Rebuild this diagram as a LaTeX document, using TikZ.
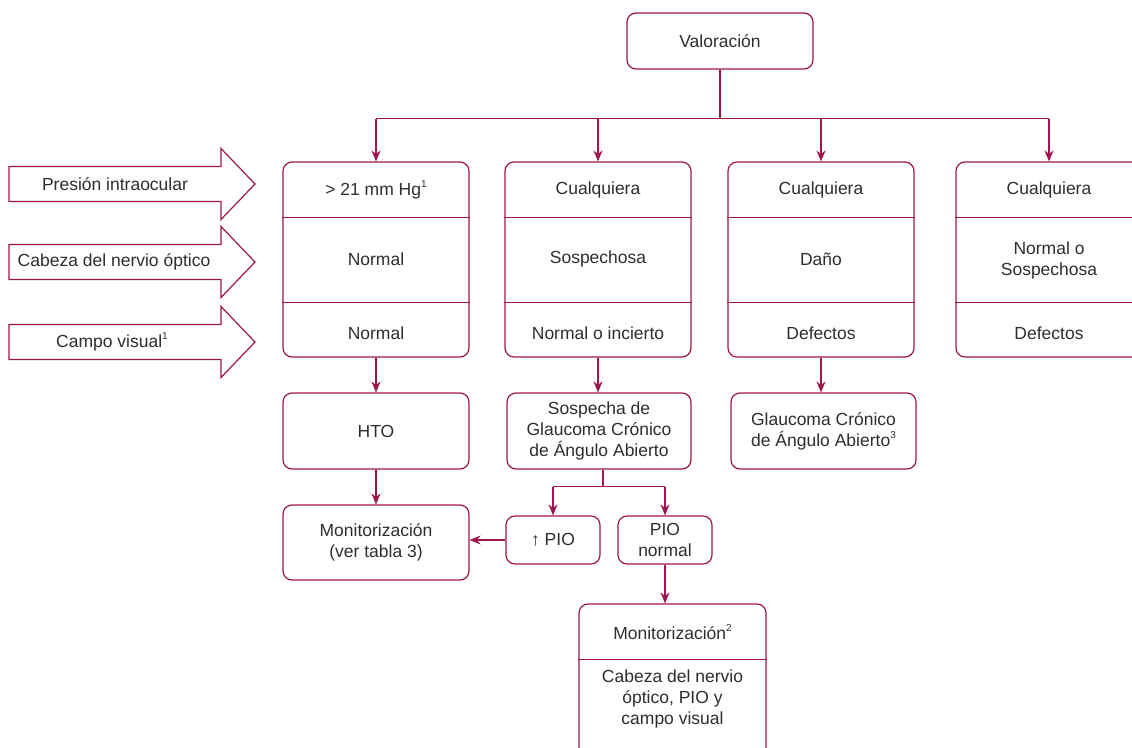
\documentclass[tikz,border=0pt]{standalone}
\usepackage{fontspec}
\setmainfont{Liberation Sans}
\usetikzlibrary{positioning, arrows.meta, calc}
\definecolor{wine}{RGB}{158, 22, 78}
\definecolor{txt}{RGB}{45, 45, 45}
\newcommand{\nota}[1]{\raisebox{0.45em}{\fontsize{10}{10}\selectfont #1}}

\begin{document}
\begin{tikzpicture}[x=1pt, y=-1pt, >={Stealth[length=11pt, width=9pt]},
    every node/.style={font=\fontsize{17.5}{21}\selectfont, text=txt, align=center},
    caja/.style={draw=wine, line width=1.2pt, rounded corners=9pt, inner sep=0pt},
    columna/.style={caja, minimum width=186pt, minimum height=195pt},
    linea/.style={draw=wine, line width=1.2pt},
    flecha/.style={linea, ->}]
    \useasboundingbox (0,0) rectangle (1132,747);

    % Flechas de la izquierda
    \foreach \y in {184, 262, 342}
        \draw[linea, line join=miter] (9,\y-17.5) -- (221,\y-17.5) -- (221,\y-35.5)
            -- (255,\y) -- (221,\y+35.5) -- (221,\y+17.5) -- (9,\y+17.5) -- cycle;
    \node (pio) at (115,184) {Presión intraocular};
    \node (cno) at (114,262) {Cabeza del nervio óptico};
    \node (cv) at (112,342) {Campo visual\nota{1}};

    % Caja superior
    \node[caja, minimum width=186pt, minimum height=56pt] (val) at (720,41) {Valoración};

    % Columnas
    \node[columna] (c1) at (376,259.5) {};
    \node[columna] (c2) at (598,259.5) {};
    \node[columna] (c3) at (821,259.5) {};
    \node[columna] (c4) at (1049,259.5) {};
    \draw[linea] (val.south) -- ++(0,49) coordinate (bus);
    \draw[linea] (bus -| c1.north) -- (bus -| c4.north);
    \foreach \c in {c1, c2, c3, c4} {
        \draw[linea] ($(\c.north west)+(0,56)$) -- ($(\c.north east)+(0,56)$);
        \draw[linea] ($(\c.north west)+(0,141)$) -- ($(\c.north east)+(0,141)$);
        \draw[flecha] (bus -| \c.north) -- (\c.north);
    }

    % Textos de las columnas
    \node (c1a) at (376,190) {> 21 mm Hg\nota{1}};
    \node (c1b) at (376,259) {Normal};
    \node (c1c) at (376,333) {Normal};
    \node (c2a) at (598,190) {Cualquiera};
    \node (c2b) at (598,259) {Sospechosa};
    \node (c2c) at (598,333) {Normal o incierto};
    \node (c3a) at (821,190) {Cualquiera};
    \node (c3b) at (821,259) {Daño};
    \node (c3c) at (821,333) {Defectos};
    \node (c4a) at (1049,190) {Cualquiera};
    \node (c4b) at (1049,260) {Normal o\\Sospechosa};
    \node (c4c) at (1049,333) {Defectos};

    % Segunda fila
    \node[caja, minimum width=186pt, minimum height=76pt] (hto) at (376,431) {HTO};
    \node[caja, minimum width=184pt, minimum height=76pt] (sosp) at (599,431)
        {Sospecha de\\Glaucoma Crónico\\de Ángulo Abierto};
    \node[caja, minimum width=185pt, minimum height=76pt] (gcaa) at (823.5,431)
        {Glaucoma Crónico\\de Ángulo Abierto\nota{3}};
    \draw[flecha] (c1.south) -- (c1.south |- hto.north);
    \draw[flecha] (c2.south) -- (c2.south |- sosp.north);
    \draw[flecha] (c3.south) -- (c3.south |- gcaa.north);

    % Seguimiento
    \node[caja, minimum width=186pt, minimum height=75pt] (mon) at (376,542.5)
        {Monitorización\\(ver tabla 3)};
    \node[caja, minimum width=94pt, minimum height=48pt] (pioa) at (553,540) {↑ PIO};
    \node[caja, minimum width=94pt, minimum height=48pt] (pion) at (665,540) {PIO\\normal};
    \draw[flecha] (hto.south) -- (mon.north);
    \draw[linea] ($(sosp.south)+(4,0)$) -- ++(0,17) coordinate (div);
    \draw[linea] (div -| pioa.north) -- (div -| pion.north);
    \draw[flecha] (div -| pioa.north) -- (pioa.north);
    \draw[flecha] (div -| pion.north) -- (pion.north);
    \draw[flecha] (pioa.west) -- (pioa.west -| mon.east);

    % Monitorizacion final
    \node[caja, minimum width=187pt, minimum height=156pt] (mon2) at (672.5,682) {};
    \draw[linea] ($(mon2.north west)+(0,56)$) -- ($(mon2.north east)+(0,56)$);
    \node (mon2a) at (672.5,632) {Monitorización\nota{2}};
    \node (mon2b) at (672.5,699) {Cabeza del nervio\\óptico, PIO y\\campo visual};
    \draw[flecha] (pion.south) -- (pion.south |- mon2.north);
\end{tikzpicture}
\end{document}
